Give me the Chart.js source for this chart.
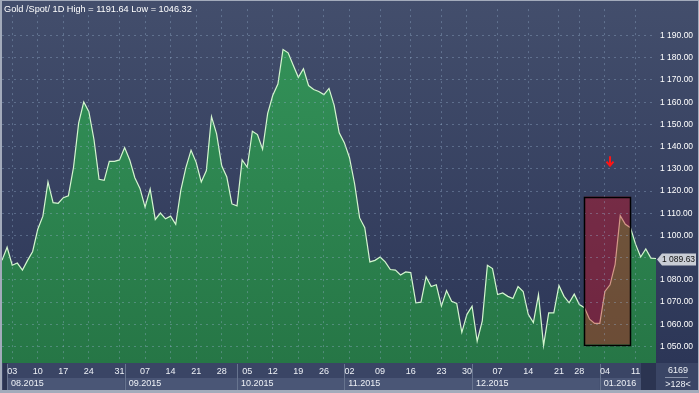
<!DOCTYPE html>
<html><head><meta charset="utf-8">
<script src="https://cdn.jsdelivr.net/npm/chart.js@4"></script>
<style>html,body{margin:0;padding:0;background:#3a4566;overflow:hidden}</style>
</head><body>
<canvas id="c" width="699" height="393" style="display:block;width:699px;height:393px"></canvas>
<script>
const prices = [
1088.8,1094.7,1086.6,1087.6,1084.4,1088.8,1092.8,1102.8,1108.7,1124.1,
1114.8,1114.5,1117.0,1117.9,1130.7,1150.6,1160.1,1155.7,1143.2,1125.3,
1124.8,1133.4,1133.4,1134.0,1139.6,1134.0,1126.0,1121.2,1112.8,1120.9,
1107.2,1110.1,1107.5,1108.7,1105.0,1120.4,1130.7,1138.4,1132.9,1124.1,
1129.2,1153.5,1145.7,1131.4,1126.3,1114.2,1113.3,1134.0,1130.7,1146.9,
1145.4,1138.8,1155.0,1163.1,1168.2,1183.7,1182.2,1176.6,1171.2,1175.1,
1167.5,1165.7,1164.8,1163.4,1166.2,1158.7,1146.2,1141.8,1135.1,1123.4,
1107.9,1103.5,1088.1,1088.8,1090.3,1088.1,1084.7,1084.4,1082.2,1083.6,
1083.3,1069.7,1070.0,1081.4,1077.0,1077.8,1068.2,1075.2,1070.4,1069.4,
1056.4,1064.5,1068.2,1052.4,1061.6,1086.6,1085.1,1073.4,1074.1,1072.6,
1071.6,1077.0,1074.8,1064.5,1060.8,1073.4,1050.5,1065.2,1065.2,1077.5,
1072.6,1069.7,1073.6,1068.9,1067.5,1062.3,1060.4,1060.4,1074.8,1077.8,
1087.0,1108.9,1105.0,1103.5,1096.1,1090.3,1093.9,1089.8,1089.63
];
const weekTickIdx = [2,7,12,17,23,28,33,38,43,48,53,58,63,68,74,80,86,91,97,103,109,113,118,124];
const weekTickLabels = ['03','10','17','24','31','07','14','21','28','05','12','19','26','02','09','16','23','30','07','14','21','28','04','11'];
const monthStartIdx = [1,24,46,67,92,117];
const monthLabels = ['08.2015','09.2015','10.2015','11.2015','12.2015','01.2016'];
const yTickValues = [1050,1060,1070,1080,1090,1100,1110,1120,1130,1140,1150,1160,1170,1180,1190];
const highlightIdx = [114,123];
const highlightRange = [1050.9,1117.5];
const markerPoint = [119,1133];
const titleText = 'Gold /Spot/ 1D High = 1191.64 Low = 1046.32';
const lastPrice = 1089.63;
const footerTexts = ['6169','>128<'];

const FONT = '"Liberation Sans", Arial, sans-serif';
function fmt(v){
  const s = v.toFixed(2); const [a,b] = s.split('.');
  return a.replace(/\B(?=(\d{3})+(?!\d))/g,' ') + '.' + b;
}

const paint = {
  id:'paint',
  beforeDraw(chart){
    const c = chart.ctx, W = chart.width, H = chart.height;
    const ca = chart.chartArea;
    c.save();
    const g = c.createLinearGradient(0,0,0,ca.bottom);
    g.addColorStop(0,'#434e6c'); g.addColorStop(1,'#2c3657');
    c.fillStyle = g; c.fillRect(0,0,W,ca.bottom);
    c.fillStyle = '#3a4565'; c.fillRect(0,ca.bottom,W,H-ca.bottom);
    const xs = chart.scales.x;
    const bandTop = ca.bottom+15, bandBot = H-3;
    const ends = monthStartIdx.map(i=>xs.getPixelForValue(i));
    for(let k=0;k<ends.length;k++){
      const x0 = ends[k], x1 = k+1<ends.length ? ends[k+1] : 641;
      c.fillStyle = '#4a5676';
      c.fillRect(x0,bandTop,x1-x0,bandBot-bandTop);
    }
    c.fillStyle = '#2b3451';
    c.fillRect(641,ca.bottom,ca.right-641,H-3-ca.bottom);
    c.fillRect(3,ca.bottom,ends[0]-3,H-3-ca.bottom);
    c.strokeStyle = '#67748f'; c.lineWidth = 1;
    ends.forEach(x=>{ c.beginPath(); c.moveTo(Math.round(x)+0.5,ca.bottom+1); c.lineTo(Math.round(x)+0.5,bandBot); c.stroke(); });
    c.restore();
  },
  afterDatasetsDraw(chart){
    const c = chart.ctx, xs = chart.scales.x, ys = chart.scales.y;
    const x0 = xs.getPixelForValue(highlightIdx[0]), x1 = xs.getPixelForValue(highlightIdx[1]);
    const y0 = ys.getPixelForValue(highlightRange[1]), y1 = ys.getPixelForValue(highlightRange[0]);
    c.save();
    c.fillStyle = 'rgba(212,12,30,0.4)';
    c.fillRect(x0,y0,x1-x0,y1-y0);
    c.restore();
  },
  afterDraw(chart){
    const c = chart.ctx, W = chart.width, H = chart.height, ca = chart.chartArea;
    const xs = chart.scales.x, ys = chart.scales.y;
    c.save();
    const x0 = xs.getPixelForValue(highlightIdx[0]), x1 = xs.getPixelForValue(highlightIdx[1]);
    const y0 = ys.getPixelForValue(highlightRange[1]), y1 = ys.getPixelForValue(highlightRange[0]);
    c.strokeStyle = '#000'; c.lineWidth = 1.5;
    c.strokeRect(Math.round(x0)+0.5,Math.round(y0)+0.5,Math.round(x1-x0),Math.round(y1-y0));
    // red arrow
    const ax = Math.round(xs.getPixelForValue(markerPoint[0])), ay = ys.getPixelForValue(markerPoint[1]);
    c.strokeStyle = '#ff1414'; c.lineWidth = 2;
    c.beginPath(); c.moveTo(ax,ay-6); c.lineTo(ax,ay+2); c.stroke();
    c.lineWidth = 2;
    c.beginPath(); c.moveTo(ax-3.5,ay-0.5); c.lineTo(ax,ay+3.5); c.lineTo(ax+3.5,ay-0.5); c.stroke();
    // title
    c.fillStyle = '#ffffff'; c.font = '9.2px ' + FONT; c.textBaseline = 'alphabetic'; c.textAlign='left';
    c.fillText(titleText, 4, 12);
    // month labels
    c.font = '9px ' + FONT; c.fillStyle = '#eef1f6'; c.textBaseline = 'middle';
    monthStartIdx.forEach((i,k)=>{ c.fillText(monthLabels[k], xs.getPixelForValue(i)+4, ca.bottom+21); });
    // price box
    const py = Math.round(ys.getPixelForValue(lastPrice))+0.5;
    c.fillStyle = '#c9cdd5';
    c.beginPath(); c.moveTo(ca.right+1,py); c.lineTo(ca.right+6,py-6); c.lineTo(W-3,py-6); c.lineTo(W-3,py+6); c.lineTo(ca.right+6,py+6); c.closePath(); c.fill();
    c.fillStyle = '#111'; c.font = '8.5px ' + FONT; c.textBaseline='middle';
    c.fillText(fmt(lastPrice), ca.right+6, py+0.5);
    // footer box
    c.fillStyle = '#eef1f6'; c.textAlign='center'; c.font = '9px ' + FONT;
    const fx = (ca.right + W)/2 + 0.5;
    c.fillText(footerTexts[0], fx, ca.bottom+8);
    c.fillText(footerTexts[1], fx, ca.bottom+22);
    c.strokeStyle = '#8a93aa'; c.lineWidth = 1;
    c.beginPath(); c.moveTo(ca.right+9, ca.bottom+14.5); c.lineTo(W-11, ca.bottom+14.5); c.stroke();
    // frame
    c.fillStyle = '#a3abbb';
    c.fillRect(0,0,2,H); c.fillRect(0,H-3,W,3); c.fillRect(0,0,W,1); c.fillRect(W-1,0,1,H);
    c.restore();
  }
};

const ctx = document.getElementById('c').getContext('2d');
new Chart(ctx, {
  type:'line',
  data:{ datasets:[{
    data: prices.map((v,i)=>({x:i,y:v})),
    fill:'start',
    backgroundColor:(cx)=>{ const ch = cx.chart, a = ch.chartArea; if(!a) return '#2c8050';
      const g = ch.ctx.createLinearGradient(0,a.top,0,a.bottom); g.addColorStop(0,'#34945a'); g.addColorStop(1,'#267646'); return g; },
    borderColor:'#d4f6cf', borderWidth:1.2, pointRadius:0, tension:0
  }]},
  options:{
    responsive:false, animation:false, devicePixelRatio:1,
    layout:{padding:{left:2,top:2,right:0,bottom:0}},
    plugins:{legend:{display:false}, tooltip:{enabled:false}, title:{display:false}},
    scales:{
      x:{ type:'linear', min:0, max:128, position:'bottom',
        afterBuildTicks:s=>{ s.ticks = weekTickIdx.map(v=>({value:v})); },
        afterFit:s=>{ s.height = 30; },
        ticks:{ autoSkip:false, maxRotation:0, padding:3, color:'#eef1f6', font:{family:FONT,size:9},
          callback:(v)=>{ const k = weekTickIdx.indexOf(v); return k>=0 ? weekTickLabels[k] : ''; } },
        grid:{ color:'rgba(150,175,205,0.38)', z:1, drawTicks:false, tickLength:0 },
        border:{ display:true, color:'#000', width:1, dash:[2,4] }
      },
      y:{ type:'linear', position:'right', min:1042.6, max:1201.9,
        afterBuildTicks:s=>{ s.ticks = yTickValues.map(v=>({value:v})); },
        afterFit:s=>{ s.width = 43; },
        ticks:{ padding:4, color:'#ffffff', font:{family:FONT,size:8.5},
          callback:(v)=> v===1090 ? '' : fmt(v) },
        grid:{ color:'rgba(150,175,205,0.38)', z:1, drawTicks:false, tickLength:0 },
        border:{ display:true, color:'#000', width:1, dash:[2,4] }
      }
    }
  },
  plugins:[paint]
});
</script>
</body></html>
